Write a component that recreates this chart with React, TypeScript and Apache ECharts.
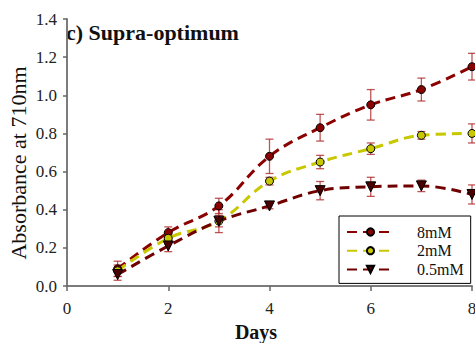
import React, { useEffect, useRef } from "react";
import * as echarts from "echarts";

const days = [1, 2, 3, 4, 5, 6, 7, 8];
const mM8 = [0.09, 0.28, 0.42, 0.68, 0.83, 0.95, 1.03, 1.15];
const mM8Err = [0.04, 0.03, 0.04, 0.09, 0.07, 0.08, 0.06, 0.07];
const mM2 = [0.08, 0.25, 0.34, 0.55, 0.65, 0.72, 0.79, 0.8];
const mM2Err = [0.03, 0.03, 0.03, 0.02, 0.035, 0.03, 0.02, 0.05];
const mM05 = [0.06, 0.21, 0.34, 0.42, 0.5, 0.52, 0.525, 0.48];
const mM05Err = [0.03, 0.03, 0.06, 0.015, 0.048, 0.05, 0.03, 0.05];
const seriesNames = ["8mM", "2mM", "0.5mM"];
const yTicks = [0, 0.2, 0.4, 0.6, 0.8, 1.0, 1.2, 1.4];
const xTicks = [0, 2, 4, 6, 8];

const FONT = "Liberation Serif";
const ERR_COLOR = "rgba(170,30,30,0.75)";

export default function App() {
  const ref = useRef<HTMLDivElement>(null);
  useEffect(() => {
    if (!ref.current) return;
    const chart = echarts.init(ref.current, undefined, { renderer: "svg" });
    const errData = (vals: number[], errs: number[]) =>
      days.map((d, i) => [d, vals[i] - errs[i], vals[i] + errs[i]]);
    const errSeries = (vals: number[], errs: number[]) => ({
      type: "custom",
      xAxisIndex: 0,
      yAxisIndex: 0,
      z: 1,
      silent: true,
      clip: false,
      data: errData(vals, errs),
      renderItem: (params: any, api: any) => {
        const x = api.value(0);
        const lo = api.coord([x, api.value(1)]);
        const hi = api.coord([x, api.value(2)]);
        const w = 4;
        const st = { stroke: ERR_COLOR, lineWidth: 1.3 };
        return {
          type: "group",
          children: [
            { type: "line", shape: { x1: lo[0], y1: lo[1], x2: hi[0], y2: hi[1] }, style: st },
            { type: "line", shape: { x1: lo[0] - w, y1: lo[1], x2: lo[0] + w, y2: lo[1] }, style: st },
            { type: "line", shape: { x1: hi[0] - w, y1: hi[1], x2: hi[0] + w, y2: hi[1] }, style: st },
          ],
        };
      },
    });
    const lineSeries = (name: string, vals: number[], color: string, fill: string, symbol: string, size: number, rotate = 0) => ({
      name,
      type: "line",
      z: 3,
      clip: false,
      smooth: 0.4,
      data: days.map((d, i) => [d, vals[i]]),
      symbol,
      symbolSize: size,
      symbolRotate: rotate,
      showAllSymbol: true,
      lineStyle: { color, width: 3, type: [10, 6] },
      itemStyle: { color: fill, borderColor: "#000", borderWidth: 1 },
    });
    chart.setOption({
      animation: false,
      textStyle: { fontFamily: FONT },
      grid: { left: 67, right: 3, top: 19, bottom: 57, containLabel: false, outerBoundsMode: "none" },
      xAxis: [
        {
          type: "value",
          min: 0,
          max: 8,
          interval: 2,
          offset: 4,
          position: "bottom",
          splitLine: { show: false },
          axisLine: { show: true, lineStyle: { color: "#666", width: 1.5 } },
          axisTick: { show: true, inside: false, length: 5, lineStyle: { color: "#666", width: 1.5 } },
          axisLabel: {
            margin: 10,
            fontFamily: FONT,
            fontSize: 17,
            color: "#222",
            formatter: (v: number) => (xTicks.includes(v) ? String(v) : ""),
          },
        },
        {
          type: "value",
          min: 0,
          max: 8,
          position: "top",
          axisLine: { show: true, lineStyle: { color: "#777", width: 1.5 } },
          axisTick: { show: false },
          axisLabel: { show: false },
          splitLine: { show: false },
        },
      ],
      yAxis: [
        {
          type: "value",
          min: 0,
          max: 1.4,
          interval: 0.2,
          splitLine: { show: false },
          axisLine: { show: true, lineStyle: { color: "#666", width: 1.5 } },
          axisTick: { show: true, inside: false, length: 4, lineStyle: { color: "#666", width: 1.5 } },
          axisLabel: {
            margin: 10,
            fontFamily: FONT,
            fontSize: 17,
            color: "#222",
            formatter: (v: number) => (yTicks.some((t) => Math.abs(t - v) < 1e-6) ? v.toFixed(1) : ""),
          },
        },
        {
          type: "value",
          min: 0,
          max: 1.4,
          position: "right",
          axisLine: { show: true, lineStyle: { color: "#777", width: 1.5 } },
          axisTick: { show: false },
          axisLabel: { show: false },
          splitLine: { show: false },
        },
      ],
      legend: {
        data: seriesNames,
        orient: "vertical",
        left: 339,
        top: 216,
        padding: [8, 7, 6, 7],
        itemGap: 2.7,
        itemWidth: 47,
        itemHeight: 9,
        borderColor: "#000",
        borderWidth: 1,
        backgroundColor: "#fff",
        textStyle: { fontFamily: FONT, fontSize: 16, color: "#111", padding: [0, 0, 0, 18] },
      },
      graphic: [
        {
          type: "text",
          left: 66,
          top: 21,
          style: { text: "c) Supra-optimum", font: `bold 22px ${FONT}`, fill: "#111" },
        },
        {
          type: "text",
          x: 18,
          y: 163,
          rotation: Math.PI / 2,
          style: { text: "Absorbance at 710nm", font: `22px ${FONT}`, fill: "#111", align: "center", verticalAlign: "middle" },
        },
        {
          type: "text",
          x: 256,
          y: 332,
          style: { text: "Days", font: `bold 20px ${FONT}`, fill: "#111", align: "center", verticalAlign: "middle" },
        },
      ],
      series: [
        errSeries(mM8, mM8Err),
        errSeries(mM2, mM2Err),
        errSeries(mM05, mM05Err),
        lineSeries("8mM", mM8, "#8B0000", "#8B0000", "circle", 8),
        lineSeries("2mM", mM2, "#C8C800", "#C8C800", "circle", 8),
        lineSeries("0.5mM", mM05, "#700000", "#4a0000", "triangle", 10, 180),
      ],
    });
    return () => chart.dispose();
  }, []);
  return <div ref={ref} style={{ width: 475, height: 343, position: "absolute", left: 0, top: 0 }} />;
}
